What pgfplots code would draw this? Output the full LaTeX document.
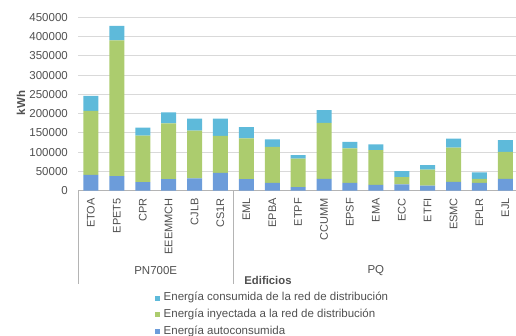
\documentclass[border=0pt]{standalone}
\usepackage{fontspec}
\setmainfont{Liberation Sans}
\usepackage{pgfplots}
\pgfplotsset{compat=1.18}
\definecolor{cAuto}{RGB}{108,156,218}
\definecolor{cInj}{RGB}{172,204,110}
\definecolor{cCons}{RGB}{94,186,218}
\definecolor{cGrid}{RGB}{217,217,217}
\definecolor{cText}{RGB}{80,80,80}
\definecolor{cAxis}{RGB}{180,180,180}
\begin{document}
\begin{tikzpicture}
\useasboundingbox (0,0) rectangle (516pt,336pt);
\begin{axis}[
  at={(78pt,145.3pt)}, anchor=south west,
  scale only axis, width=440.3pt, height=173.4pt,
  ybar stacked, bar width=15pt,
  legend image code/.code={\fill[#1] (0pt,-2.5pt) rectangle (5pt,2.5pt);},
  xmin=-0.5, xmax=16.5, ymin=0, ymax=450000,
  clip=false,
  axis line style={draw=none},
  major tick length=0pt,
  ytick={0,50000,...,450000},
  ymajorgrids, grid style={cGrid, line width=0.8pt},
  scaled y ticks=false,
  /pgf/number format/assume math mode=true,
  yticklabel style={/pgf/number format/fixed, /pgf/number format/precision=0,
    /pgf/number format/1000 sep={}, font=\fontsize{11.5}{12}\selectfont,
    text=cText, anchor=east, inner sep=0pt},
  yticklabel shift=10pt,
  xtick={0,...,16},
  xticklabels={ETOA,EPET5,CPR,EEEMMCH,CJLB,CS1R,EML,EPBA,ETPF,CCUMM,EPSF,EMA,ECC,ETFI,ESMC,EPLR,EJL},
  xticklabel style={rotate=90, anchor=east, inner sep=0pt,
    font=\fontsize{11}{12}\selectfont, text=cText},
  xticklabel shift=7.3pt,
  legend style={draw=none, fill=none, at={(axis description cs:0.1749,-0.585)},
    anchor=north west, inner sep=0pt, row sep=5.2pt,
    font=\fontsize{11.5}{12}\selectfont, text=cText,
    nodes={inner sep=0pt, text height=8.5pt, text depth=3pt},
    /tikz/every odd column/.append style={column sep=3.5pt}},
  legend cell align=left,
  reverse legend,
]
\addplot[fill=cAuto, draw=none] coordinates {
 (0,41000) (1,38000) (2,22000) (3,30000) (4,32000) (5,46000) (6,30000) (7,20000)
 (8,9000) (9,31000) (10,20000) (11,15000) (12,16500) (13,13000) (14,23000) (15,20000) (16,31000)};
\addlegendentry{Energía autoconsumida}
\addplot[fill=cInj, draw=none] coordinates {
 (0,166000) (1,352000) (2,121000) (3,145000) (4,124000) (5,96000) (6,106000) (7,94000)
 (8,74000) (9,145000) (10,90000) (11,90000) (12,19000) (13,41500) (14,88500) (15,10500) (16,70000)};
\addlegendentry{Energía inyectada a la red de distribución}
\addplot[fill=cCons, draw=none] coordinates {
 (0,39000) (1,38000) (2,21000) (3,28500) (4,31000) (5,45000) (6,29000) (7,19000)
 (8,9000) (9,33000) (10,17000) (11,15500) (12,15500) (13,12000) (14,23500) (15,17000) (16,30000)};
\addlegendentry{Energía consumida de la red de distribución}
\draw[cAxis, line width=0.8pt] (axis cs:-0.5,0) -- (axis cs:16.5,0);
\draw[cAxis, line width=0.8pt] (axis cs:-0.5,0) -- ([yshift=-93pt]axis cs:-0.5,0);
\draw[cAxis, line width=0.8pt] (axis cs:5.5,0) -- ([yshift=-93pt]axis cs:5.5,0);
\draw[cAxis, line width=0.8pt] (axis cs:16.5,0) -- ([yshift=-93pt]axis cs:16.5,0);
\node[font=\fontsize{11.5}{12}\selectfont, text=cText] at ([yshift=-80.3pt]axis cs:2.5,0) {PN700E};
\node[font=\fontsize{11.5}{12}\selectfont, text=cText] at ([yshift=-80.3pt]axis cs:11,0) {PQ};
\node[font=\bfseries\fontsize{11.3}{12}\selectfont, text=cText] at (axis description cs:0.4315,-0.515) {Edificios};
\node[font=\bfseries\fontsize{11.5}{12}\selectfont, text=cText, rotate=90] at (axis description cs:-0.1295,0.506) {kWh};
\end{axis}
\end{tikzpicture}
\end{document}
